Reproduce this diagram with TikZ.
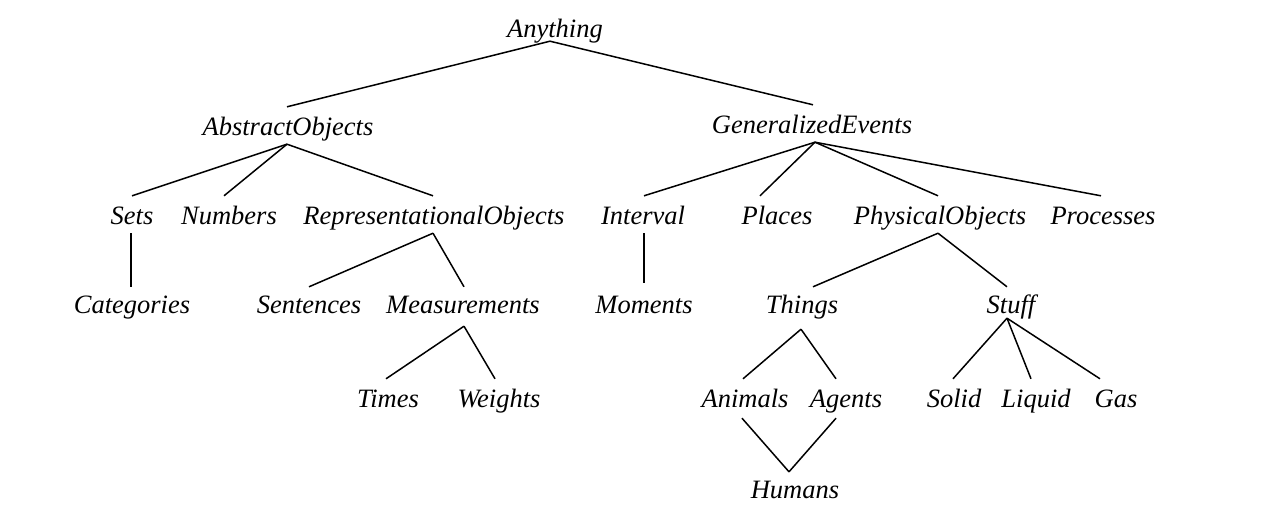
\documentclass[tikz,border=0pt]{standalone}
\usepackage{fontspec}
\setmainfont{Liberation Serif}
\begin{document}
\begin{tikzpicture}[x=1pt,y=-1pt,
  lbl/.style={anchor=base, inner sep=0pt, text height=28pt, text depth=9pt,
    font=\fontsize{26.5}{30}\selectfont\itshape},
  link/.style={line width=1.5pt, black}]
\fill[white] (0,0) rectangle (1280,517);
\useasboundingbox (0,0) rectangle (1280,517);
% row 1
\node[lbl] (any) at (555,37) {Anything};
% row 2
\node[lbl] (ao) at (288,135) {AbstractObjects};
\node[lbl] (ge) at (812,133) {GeneralizedEvents};
% row 3
\node[lbl] (sets) at (132,224) {Sets};
\node[lbl] (num) at (229,224) {Numbers};
\node[lbl] (rep) at (434,224) {RepresentationalObjects};
\node[lbl] (int) at (643,224) {Interval};
\node[lbl] (pla) at (777,224) {Places};
\node[lbl] (phy) at (940,224) {PhysicalObjects};
\node[lbl] (pro) at (1103,224) {Processes};
% row 4
\node[lbl] (cat) at (132,313) {Categories};
\node[lbl] (sen) at (309,313) {Sentences};
\node[lbl] (mea) at (463,313) {Measurements};
\node[lbl] (mom) at (644,313) {Moments};
\node[lbl] (thi) at (802,313) {Things};
\node[lbl] (stu) at (1011,313) {Stuff};
% row 5
\node[lbl] (tim) at (388,407) {Times};
\node[lbl] (wei) at (499,407) {Weights};
\node[lbl] (ani) at (745,407) {Animals};
\node[lbl] (age) at (846,407) {Agents};
\node[lbl] (sol) at (954,407) {Solid};
\node[lbl] (liq) at (1036,407) {Liquid};
\node[lbl] (gas) at (1116,407) {Gas};
% row 6
\node[lbl] (hum) at (795,498) {Humans};
% connectors
\draw[link] ([xshift=-5pt,yshift=5pt]any.south) -- ([xshift=-1pt]ao.north);
\draw[link] ([xshift=-5pt,yshift=5pt]any.south) -- ([xshift=1pt]ge.north);
\draw[link] ([xshift=-1pt]ao.south) -- (sets.north);
\draw[link] ([xshift=-1pt]ao.south) -- ([xshift=-5pt]num.north);
\draw[link] ([xshift=-1pt]ao.south) -- ([xshift=-1pt]rep.north);
\draw[link] ([xshift=3pt]ge.south) -- ([xshift=1pt]int.north);
\draw[link] ([xshift=3pt]ge.south) -- ([xshift=-17pt]pla.north);
\draw[link] ([xshift=3pt]ge.south) -- ([xshift=-2pt]phy.north);
\draw[link] ([xshift=3pt]ge.south) -- ([xshift=-2pt]pro.north);
\draw[link] ([xshift=-1pt]sets.south) -- ([xshift=-1pt,yshift=-2pt]cat.north);
\draw[link] ([xshift=-1pt]rep.south) -- ([yshift=-2pt]sen.north);
\draw[link] ([xshift=-1pt]rep.south) -- ([xshift=1pt,yshift=-2pt]mea.north);
\draw[link] ([xshift=1pt]int.south) -- ([yshift=2pt]mom.north);
\draw[link] ([xshift=-2pt]phy.south) -- ([xshift=11pt,yshift=-2pt]thi.north);
\draw[link] ([xshift=-2pt]phy.south) -- ([xshift=-4pt,yshift=-2pt]stu.north);
\draw[link] ([xshift=1pt,yshift=-4pt]mea.south) -- ([xshift=-2pt]tim.north);
\draw[link] ([xshift=1pt,yshift=-4pt]mea.south) -- ([xshift=-4pt]wei.north);
\draw[link] ([xshift=-1pt,yshift=-7pt]thi.south) -- ([xshift=-2pt]ani.north);
\draw[link] ([xshift=-1pt,yshift=-7pt]thi.south) -- ([xshift=-10pt]age.north);
\draw[link] ([xshift=-4pt,yshift=4pt]stu.south) -- ([xshift=-1pt]sol.north);
\draw[link] ([xshift=-4pt,yshift=4pt]stu.south) -- ([xshift=-5pt]liq.north);
\draw[link] ([xshift=-4pt,yshift=4pt]stu.south) -- ([xshift=-16pt]gas.north);
\draw[link] ([xshift=-3pt,yshift=-2pt]ani.south) -- ([xshift=-6pt,yshift=-2pt]hum.north);
\draw[link] ([xshift=-10pt,yshift=-2pt]age.south) -- ([xshift=-6pt,yshift=-2pt]hum.north);
\end{tikzpicture}
\end{document}
